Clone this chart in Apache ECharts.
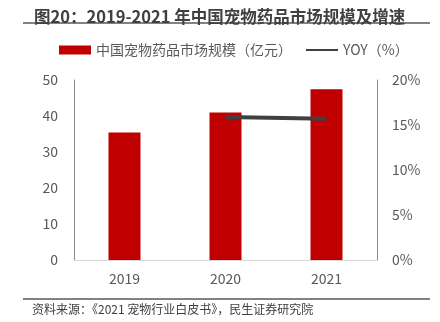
<!DOCTYPE html>
<html><head><meta charset="utf-8">
<script src="https://cdn.jsdelivr.net/npm/echarts@6/dist/echarts.min.js"></script>
<style>html,body{margin:0;padding:0;background:#fff}#c{width:440px;height:322px}</style>
</head><body><div id="c"></div>
<script>
const categories = ['2019', '2020', '2021'];
const marketSize = [35.4, 41.0, 47.4];
const yoy = [null, 15.9, 15.7];
const leftTicks = [0, 10, 20, 30, 40, 50];
const rightTicks = [0, 5, 10, 15, 20];
const barName = '中国宠物药品市场规模（亿元）';
const lineName = 'YOY（%）';
const FONT = '"Noto Sans CJK SC", "Noto Sans", sans-serif';

const chart = echarts.init(document.getElementById('c'), null, {renderer: 'canvas'});
chart.setOption({
  animation: false,
  textStyle: {fontFamily: FONT},
  title: {
    text: '图20：2019-2021 年中国宠物药品市场规模及增速',
    left: 29, top: 3,
    textStyle: {fontSize: 16.5, fontWeight: 'bold', color: '#404040', fontFamily: FONT}
  },
  graphic: [
    {type: 'line', shape: {x1: 23, y1: 23, x2: 430, y2: 23}, style: {stroke: '#595959', lineWidth: 1.5}},
    {type: 'line', shape: {x1: 23, y1: 299, x2: 430, y2: 299}, style: {stroke: '#595959', lineWidth: 1.5}},
    {type: 'text', left: 32, top: 303, style: {text: '资料来源：《2021 宠物行业白皮书》，民生证券研究院', fill: '#404040', font: '12px ' + FONT}}
  ],
  legend: {
    top: 38, left: 54,
    itemGap: 13,
    itemWidth: 32, itemHeight: 9,
    textStyle: {fontSize: 14, color: '#595959', fontFamily: FONT},
    data: [{name: barName, icon: 'rect'}, {name: lineName, itemStyle: {opacity: 0}}]
  },
  grid: {left: 74, right: 63, top: 80, bottom: 62},
  xAxis: {
    type: 'category', data: categories,
    axisLine: {lineStyle: {color: '#d9d9d9', width: 1}},
    axisTick: {show: false},
    axisLabel: {fontSize: 14, color: '#595959', margin: 12}
  },
  yAxis: [
    {
      type: 'value', min: leftTicks[0], max: leftTicks[leftTicks.length - 1], interval: 10,
      axisLine: {show: true, lineStyle: {color: '#898989'}},
      axisTick: {show: false}, splitLine: {show: false},
      axisLabel: {fontSize: 14, color: '#595959', margin: 16}
    },
    {
      type: 'value', min: rightTicks[0], max: rightTicks[rightTicks.length - 1], interval: 5,
      position: 'right',
      axisLine: {show: true, lineStyle: {color: '#898989'}},
      axisTick: {show: false}, splitLine: {show: false},
      axisLabel: {fontSize: 14, color: '#595959', margin: 15, formatter: '{value}%'}
    }
  ],
  series: [
    {
      name: barName, type: 'bar', data: marketSize, barWidth: 32,
      itemStyle: {color: '#c00000'}
    },
    {
      name: lineName, type: 'line', yAxisIndex: 1, data: yoy,
      symbol: 'none', connectNulls: false,
      lineStyle: {color: '#404040', width: 4},
      itemStyle: {color: '#404040'}
    }
  ]
});
</script></body></html>
